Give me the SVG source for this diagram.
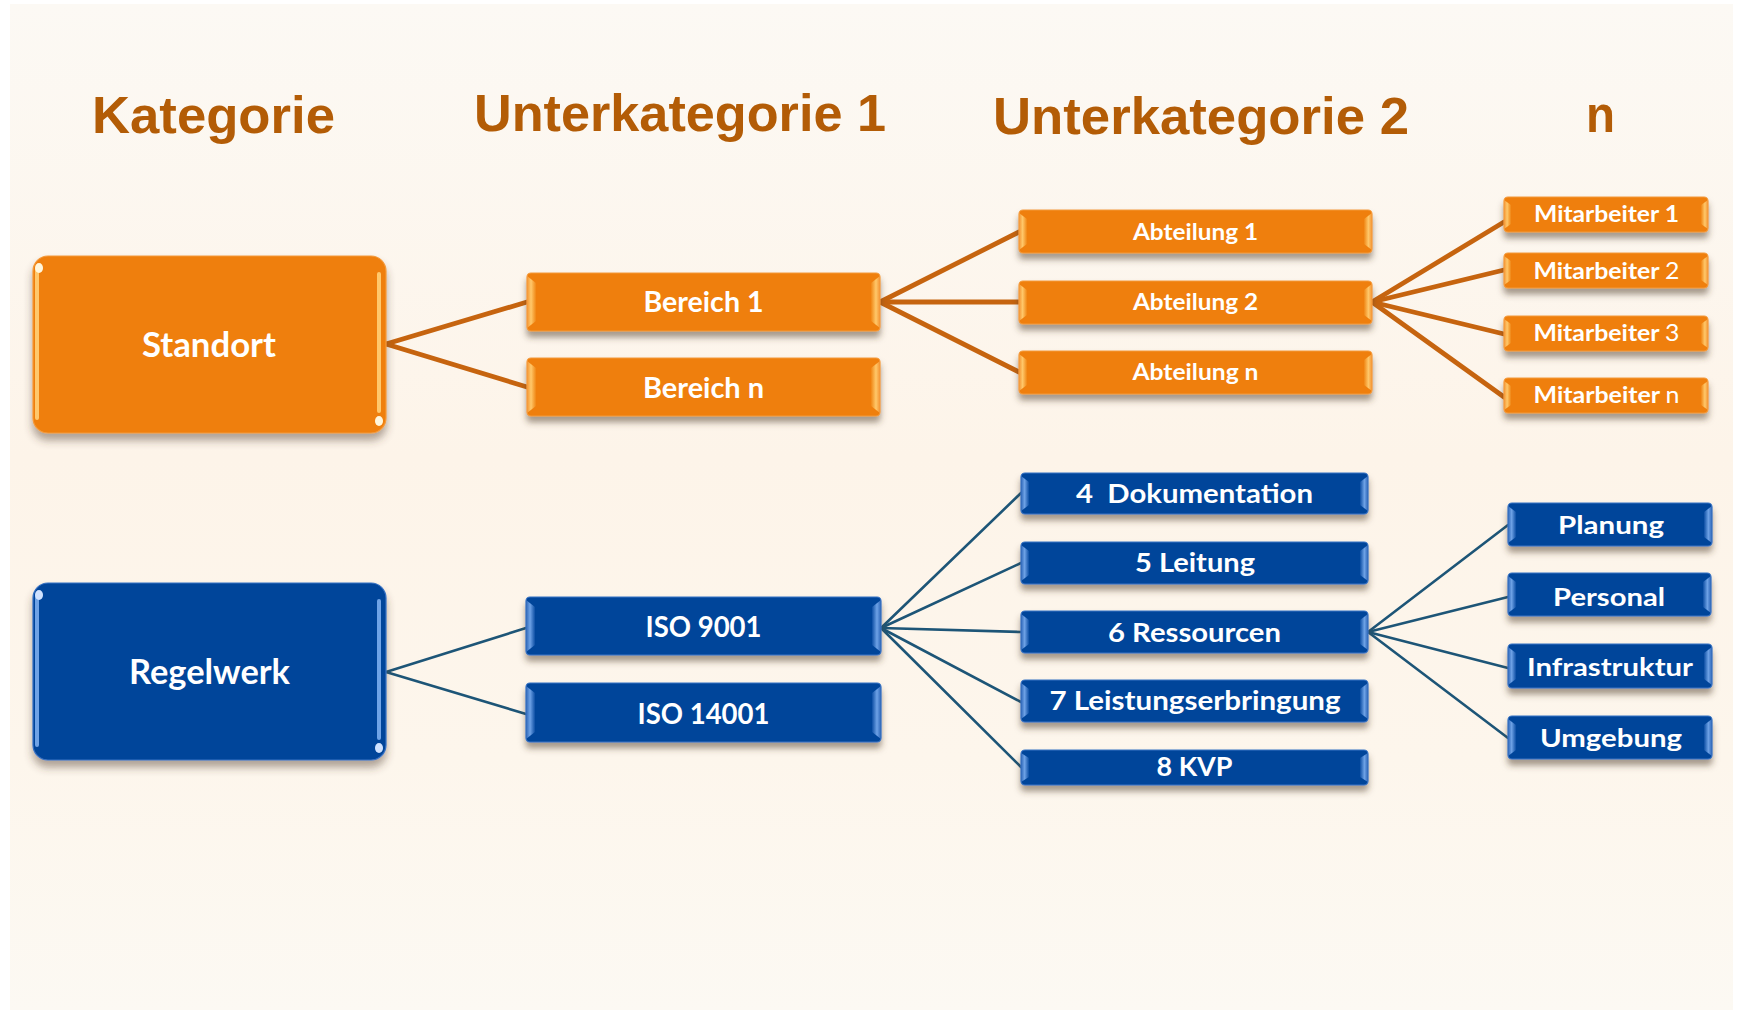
<svg xmlns="http://www.w3.org/2000/svg" width="1737" height="1011" viewBox="0 0 1737 1011">
<defs>
<style>
.h{font-family:"Liberation Sans",Arial,sans-serif;font-weight:700;fill:#B35C06;font-size:52px}
.t{font-family:Lato,"Open Sans",sans-serif;font-weight:700;fill:#fff;text-anchor:middle}
.r{font-weight:400}
.o{fill:#EF7F0C;stroke:#F49A3C;stroke-width:1.2}
.b{fill:#03449A;stroke:#3572C4;stroke-width:1.2}
.ol{fill:url(#gOL)}
.or{fill:url(#gOR)}
.bl{fill:url(#gBL)}
.br{fill:url(#gBR)}
.ob{fill:#FFC86C}
.bb{fill:#6FA3E6}
.gl{fill:#FFF6DC}
.co{stroke:#C6640F;stroke-width:4.8;fill:none;stroke-linecap:round}
.cb{stroke:#1D5577;stroke-width:2.6;fill:none;stroke-linecap:round}
</style>
<linearGradient id="bg" x1="0" y1="0" x2="0" y2="1">
<stop offset="0" stop-color="#FCF9F4"/>
<stop offset="0.45" stop-color="#FDF4E9"/>
<stop offset="0.75" stop-color="#FDF6EC"/>
<stop offset="1" stop-color="#FCF9F3"/>
</linearGradient>
<linearGradient id="gOL" x1="0" y1="0" x2="1" y2="0">
<stop offset="0" stop-color="#F49433"/>
<stop offset="0.45" stop-color="#FFC86A"/>
<stop offset="1" stop-color="#F08614"/>
</linearGradient>
<linearGradient id="gOR" x1="1" y1="0" x2="0" y2="0">
<stop offset="0" stop-color="#F49433"/>
<stop offset="0.45" stop-color="#FFC86A"/>
<stop offset="1" stop-color="#F08614"/>
</linearGradient>
<linearGradient id="gBL" x1="0" y1="0" x2="1" y2="0">
<stop offset="0" stop-color="#2D66B8"/>
<stop offset="0.45" stop-color="#6EA2E6"/>
<stop offset="1" stop-color="#0C4EA4"/>
</linearGradient>
<linearGradient id="gBR" x1="1" y1="0" x2="0" y2="0">
<stop offset="0" stop-color="#2D66B8"/>
<stop offset="0.45" stop-color="#6EA2E6"/>
<stop offset="1" stop-color="#0C4EA4"/>
</linearGradient>
<filter id="sh" x="-5%" y="-20%" width="110%" height="170%">
<feDropShadow dx="0" dy="6" stdDeviation="3" flood-color="#4d3b2a" flood-opacity="0.5"/>
</filter>
<filter id="shB" x="-5%" y="-10%" width="110%" height="125%">
<feDropShadow dx="0" dy="7" stdDeviation="4" flood-color="#4d3b2a" flood-opacity="0.45"/>
</filter>
</defs>

<rect x="0" y="0" width="1737" height="1011" fill="#ffffff"/>
<rect x="10" y="4" width="1723" height="1006" fill="url(#bg)"/>

<g id="titles">
<text class="h" x="92" y="133" textLength="243" lengthAdjust="spacingAndGlyphs">Kategorie</text>
<text class="h" x="474" y="131" textLength="412" lengthAdjust="spacingAndGlyphs">Unterkategorie 1</text>
<text class="h" x="993" y="134" textLength="416" lengthAdjust="spacingAndGlyphs">Unterkategorie 2</text>
<text class="h" x="1586" y="132" textLength="29" lengthAdjust="spacingAndGlyphs">n</text>
</g>

<g id="connectors">
<line class="co" x1="386" y1="344" x2="527" y2="302"/>
<line class="co" x1="386" y1="344" x2="527" y2="387"/>
<line class="co" x1="880" y1="302" x2="1019" y2="232"/>
<line class="co" x1="880" y1="302" x2="1019" y2="302"/>
<line class="co" x1="880" y1="302" x2="1019" y2="372"/>
<line class="co" x1="1372" y1="302" x2="1504" y2="222"/>
<line class="co" x1="1372" y1="302" x2="1504" y2="270"/>
<line class="co" x1="1372" y1="302" x2="1504" y2="334"/>
<line class="co" x1="1372" y1="302" x2="1504" y2="397"/>
<line class="cb" x1="386" y1="672" x2="526" y2="628"/>
<line class="cb" x1="386" y1="672" x2="526" y2="714"/>
<line class="cb" x1="881" y1="628" x2="1021" y2="493"/>
<line class="cb" x1="881" y1="628" x2="1021" y2="563"/>
<line class="cb" x1="881" y1="628" x2="1021" y2="632"/>
<line class="cb" x1="881" y1="628" x2="1021" y2="702"/>
<line class="cb" x1="881" y1="628" x2="1021" y2="767"/>
<line class="cb" x1="1368" y1="632" x2="1508" y2="525"/>
<line class="cb" x1="1368" y1="632" x2="1508" y2="597"/>
<line class="cb" x1="1368" y1="632" x2="1508" y2="668"/>
<line class="cb" x1="1368" y1="632" x2="1508" y2="738"/>
</g>

<g id="standort">
<rect class="o" x="33" y="256" width="353" height="177" rx="15" filter="url(#shB)"/>
<rect class="ob" x="35" y="268" width="4" height="152" rx="2"/>
<rect class="ob" x="377" y="272" width="4" height="141" rx="2"/>
<ellipse class="gl" cx="39" cy="268" rx="4" ry="5"/>
<ellipse class="gl" cx="379" cy="421" rx="4" ry="5"/>
<text class="t" x="209" y="357" font-size="33.5" textLength="134" lengthAdjust="spacingAndGlyphs">Standort</text>
</g>

<g id="regelwerk">
<rect class="b" x="33" y="583" width="353" height="177" rx="15" filter="url(#shB)"/>
<rect class="bb" x="35" y="595" width="4" height="152" rx="2"/>
<rect class="bb" x="377" y="599" width="4" height="141" rx="2"/>
<ellipse fill="#CFE2FF" cx="39" cy="595" rx="4" ry="5"/>
<ellipse fill="#CFE2FF" cx="379" cy="748" rx="4" ry="5"/>
<text class="t" x="209.5" y="684" font-size="33.5" textLength="161" lengthAdjust="spacingAndGlyphs">Regelwerk</text>
</g>

<g id="bereich1">
<rect class="o" x="527" y="273" width="353" height="58" rx="4" filter="url(#sh)"/>
<polygon class="ol" points="527,276 536,283 536,321 527,328"/>
<polygon class="or" points="880,276 871,283 871,321 880,328"/>
<text class="t" x="703.5" y="312" font-size="29.3" textLength="120" lengthAdjust="spacingAndGlyphs">Bereich 1</text>
</g>
<g id="bereichn">
<rect class="o" x="527" y="358" width="353" height="58" rx="4" filter="url(#sh)"/>
<polygon class="ol" points="527,361 536,368 536,406 527,413"/>
<polygon class="or" points="880,361 871,368 871,406 880,413"/>
<text class="t" x="703.5" y="398" font-size="29.3" textLength="121" lengthAdjust="spacingAndGlyphs">Bereich n</text>
</g>

<g id="abteilung1">
<rect class="o" x="1019" y="210" width="353" height="43" rx="4" filter="url(#sh)"/>
<polygon class="ol" points="1019,213 1027,219 1027,244 1019,250"/>
<polygon class="or" points="1372,213 1364,219 1364,244 1372,250"/>
<text class="t" x="1195.5" y="240" font-size="23.3" textLength="125" lengthAdjust="spacingAndGlyphs">Abteilung 1</text>
</g>
<g id="abteilung2">
<rect class="o" x="1019" y="281" width="353" height="43" rx="4" filter="url(#sh)"/>
<polygon class="ol" points="1019,284 1027,290 1027,315 1019,321"/>
<polygon class="or" points="1372,284 1364,290 1364,315 1372,321"/>
<text class="t" x="1195.5" y="310" font-size="23.3" textLength="125" lengthAdjust="spacingAndGlyphs">Abteilung 2</text>
</g>
<g id="abteilungn">
<rect class="o" x="1019" y="351" width="353" height="43" rx="4" filter="url(#sh)"/>
<polygon class="ol" points="1019,354 1027,360 1027,385 1019,391"/>
<polygon class="or" points="1372,354 1364,360 1364,385 1372,391"/>
<text class="t" x="1195.5" y="380" font-size="23.3" textLength="126" lengthAdjust="spacingAndGlyphs">Abteilung n</text>
</g>

<g id="mitarbeiter1">
<rect class="o" x="1504" y="197" width="204" height="35" rx="4" filter="url(#sh)"/>
<polygon class="ol" points="1504,200 1511,205 1511,224 1504,229"/>
<polygon class="or" points="1708,200 1701,205 1701,224 1708,229"/>
<text class="t" x="1606.5" y="222" font-size="23.3" textLength="145" lengthAdjust="spacingAndGlyphs">Mitarbeiter 1</text>
</g>
<g id="mitarbeiter2">
<rect class="o" x="1504" y="253" width="204" height="35" rx="4" filter="url(#sh)"/>
<polygon class="ol" points="1504,256 1511,261 1511,280 1504,285"/>
<polygon class="or" points="1708,256 1701,261 1701,280 1708,285"/>
<text class="t" x="1606.5" y="279" font-size="23.3" textLength="146" lengthAdjust="spacingAndGlyphs">Mitarbeiter <tspan class="r">2</tspan></text>
</g>
<g id="mitarbeiter3">
<rect class="o" x="1504" y="316" width="204" height="35" rx="4" filter="url(#sh)"/>
<polygon class="ol" points="1504,319 1511,324 1511,343 1504,348"/>
<polygon class="or" points="1708,319 1701,324 1701,343 1708,348"/>
<text class="t" x="1606.5" y="341" font-size="23.3" textLength="146" lengthAdjust="spacingAndGlyphs">Mitarbeiter <tspan class="r">3</tspan></text>
</g>
<g id="mitarbeitern">
<rect class="o" x="1504" y="378" width="204" height="35" rx="4" filter="url(#sh)"/>
<polygon class="ol" points="1504,381 1511,386 1511,405 1504,410"/>
<polygon class="or" points="1708,381 1701,386 1701,405 1708,410"/>
<text class="t" x="1606.5" y="403" font-size="23.3" textLength="146" lengthAdjust="spacingAndGlyphs">Mitarbeiter <tspan class="r">n</tspan></text>
</g>

<g id="iso9001">
<rect class="b" x="526" y="597" width="355" height="58" rx="4" filter="url(#sh)"/>
<polygon class="bl" points="526,600 535,607 535,645 526,652"/>
<polygon class="br" points="881,600 872,607 872,645 881,652"/>
<text class="t" x="703.5" y="637" font-size="29.3" textLength="116" lengthAdjust="spacingAndGlyphs">ISO 9001</text>
</g>
<g id="iso14001">
<rect class="b" x="526" y="683" width="355" height="59" rx="4" filter="url(#sh)"/>
<polygon class="bl" points="526,686 535,693 535,732 526,739"/>
<polygon class="br" points="881,686 872,693 872,732 881,739"/>
<text class="t" x="703.5" y="724" font-size="29.3" textLength="132" lengthAdjust="spacingAndGlyphs">ISO 14001</text>
</g>

<g id="dokumentation">
<rect class="b" x="1021" y="473" width="347" height="41" rx="4" filter="url(#sh)"/>
<polygon class="bl" points="1021,476 1029,482 1029,505 1021,511"/>
<polygon class="br" points="1368,476 1360,482 1360,505 1368,511"/>
<text class="t" x="1194.5" y="503" font-size="26" textLength="237" lengthAdjust="spacingAndGlyphs" xml:space="preserve">4  Dokumentation</text>
</g>
<g id="leitung">
<rect class="b" x="1021" y="542" width="347" height="42" rx="4" filter="url(#sh)"/>
<polygon class="bl" points="1021,545 1029,551 1029,575 1021,581"/>
<polygon class="br" points="1368,545 1360,551 1360,575 1368,581"/>
<text class="t" x="1195" y="572" font-size="26" textLength="120" lengthAdjust="spacingAndGlyphs">5 Leitung</text>
</g>
<g id="ressourcen">
<rect class="b" x="1021" y="611" width="347" height="42" rx="4" filter="url(#sh)"/>
<polygon class="bl" points="1021,614 1029,620 1029,644 1021,650"/>
<polygon class="br" points="1368,614 1360,620 1360,644 1368,650"/>
<text class="t" x="1194.5" y="642" font-size="26" textLength="173" lengthAdjust="spacingAndGlyphs">6 Ressourcen</text>
</g>
<g id="leistungserbringung">
<rect class="b" x="1021" y="680" width="347" height="42" rx="4" filter="url(#sh)"/>
<polygon class="bl" points="1021,683 1029,689 1029,713 1021,719"/>
<polygon class="br" points="1368,683 1360,689 1360,713 1368,719"/>
<text class="t" x="1195" y="710" font-size="26" textLength="291" lengthAdjust="spacingAndGlyphs">7 Leistungserbringung</text>
</g>
<g id="kvp">
<rect class="b" x="1021" y="750" width="347" height="35" rx="4" filter="url(#sh)"/>
<polygon class="bl" points="1021,753 1029,758 1029,777 1021,782"/>
<polygon class="br" points="1368,753 1360,758 1360,777 1368,782"/>
<text class="t" x="1194.5" y="776" font-size="26" textLength="76" lengthAdjust="spacingAndGlyphs">8 KVP</text>
</g>

<g id="planung">
<rect class="b" x="1508" y="503" width="204" height="43" rx="4" filter="url(#sh)"/>
<polygon class="bl" points="1508,506 1516,512 1516,537 1508,543"/>
<polygon class="br" points="1712,506 1704,512 1704,537 1712,543"/>
<text class="t" x="1611" y="534" font-size="25.5" textLength="106" lengthAdjust="spacingAndGlyphs">Planung</text>
</g>
<g id="personal">
<rect class="b" x="1508" y="573" width="203" height="43" rx="4" filter="url(#sh)"/>
<polygon class="bl" points="1508,576 1516,582 1516,607 1508,613"/>
<polygon class="br" points="1711,576 1703,582 1703,607 1711,613"/>
<text class="t" x="1609" y="606" font-size="25.5" textLength="112" lengthAdjust="spacingAndGlyphs">Personal</text>
</g>
<g id="infrastruktur">
<rect class="b" x="1508" y="644" width="204" height="44" rx="4" filter="url(#sh)"/>
<polygon class="bl" points="1508,647 1516,653 1516,679 1508,685"/>
<polygon class="br" points="1712,647 1704,653 1704,679 1712,685"/>
<text class="t" x="1610" y="676" font-size="25.5" textLength="166" lengthAdjust="spacingAndGlyphs">Infrastruktur</text>
</g>
<g id="umgebung">
<rect class="b" x="1508" y="716" width="204" height="43" rx="4" filter="url(#sh)"/>
<polygon class="bl" points="1508,719 1516,725 1516,750 1508,756"/>
<polygon class="br" points="1712,719 1704,725 1704,750 1712,756"/>
<text class="t" x="1611" y="747" font-size="25.5" textLength="142" lengthAdjust="spacingAndGlyphs">Umgebung</text>
</g>
</svg>
